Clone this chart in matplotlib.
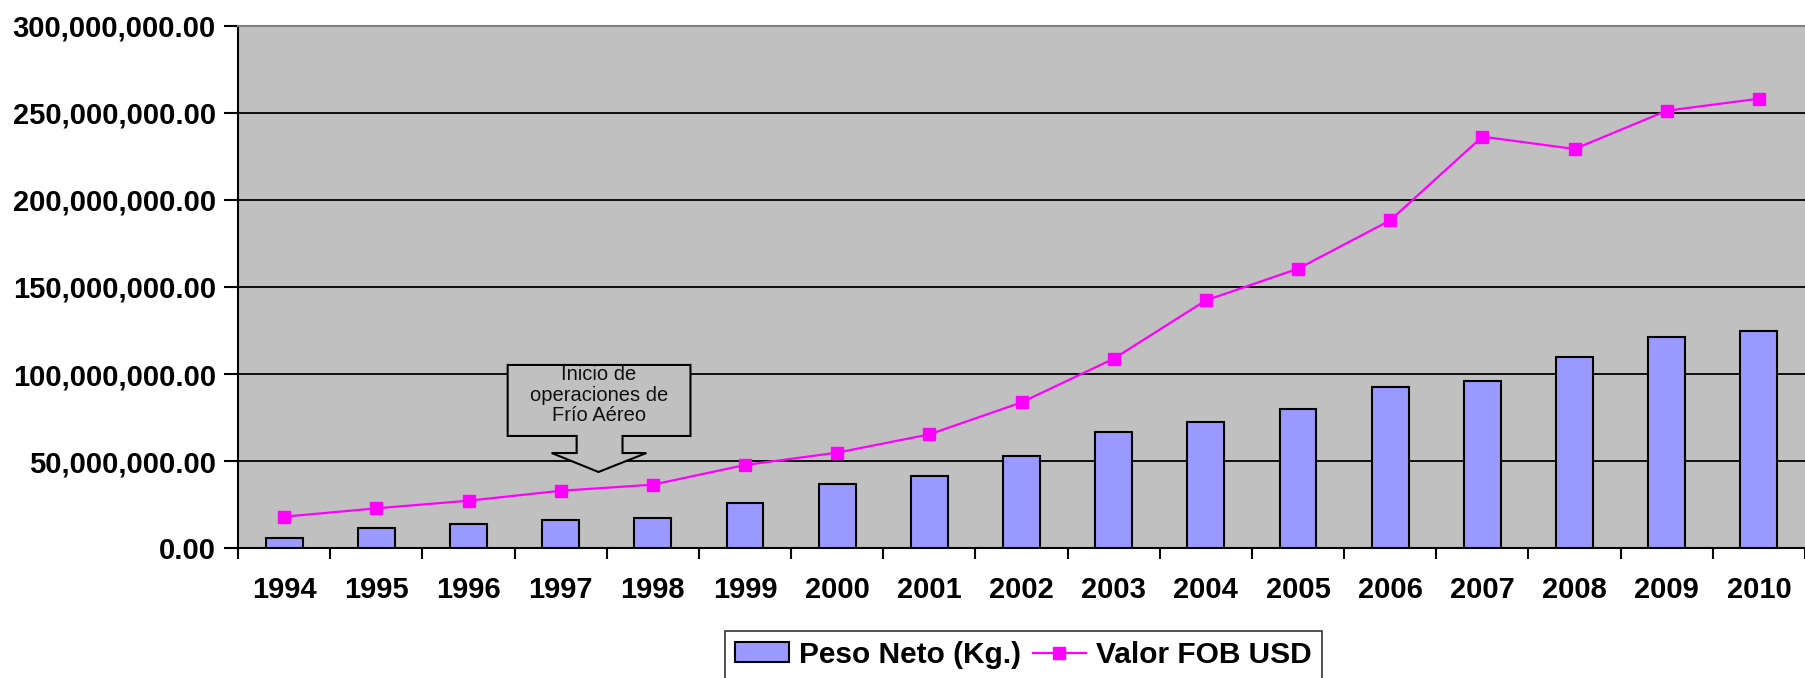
import numpy as np
import matplotlib
matplotlib.use('Agg')
import matplotlib.pyplot as plt
from matplotlib.patches import Polygon
from matplotlib.ticker import FuncFormatter, FixedLocator

plt.rcParams['font.family'] = ['Liberation Sans', 'DejaVu Sans']

# datos
anios = ['1994', '1995', '1996', '1997', '1998', '1999', '2000', '2001', '2002',
         '2003', '2004', '2005', '2006', '2007', '2008', '2009', '2010']
peso_neto = [5.6e6, 11.3e6, 13.6e6, 15.9e6, 17.1e6, 26.1e6, 36.6e6, 41.2e6, 52.9e6,
             66.5e6, 72.2e6, 80.1e6, 92.7e6, 96.2e6, 110.0e6, 121.4e6, 124.9e6]
valor_fob = [18.0e6, 22.8e6, 27.2e6, 32.9e6, 36.4e6, 47.7e6, 54.8e6, 65.3e6, 83.7e6,
             108.8e6, 142.3e6, 160.5e6, 188.3e6, 236.4e6, 229.3e6, 251.3e6, 258.2e6]

fig = plt.figure(figsize=(18.05, 6.78), dpi=100)
ax = fig.add_axes([0.1319, 0.1917, 0.8681, 0.77])
ax.set_facecolor('#C0C0C0')

x = np.arange(len(anios))
barras = ax.bar(x, peso_neto, width=0.4, color='#9999FF', edgecolor='black', linewidth=1.5,
                zorder=3, label='Peso Neto (Kg.)')
linea, = ax.plot(x, valor_fob, color='#FF00FF', linewidth=1.6, marker='s', markersize=8.5,
                 zorder=4, label='Valor FOB USD')

ax.set_xlim(-0.5, len(anios) - 0.5)
ax.set_ylim(0, 300e6)
ax.set_yticks(np.arange(0, 300e6 + 1, 50e6))
ax.yaxis.set_major_formatter(FuncFormatter(lambda v, p: '{:,.2f}'.format(v)))
ax.yaxis.grid(True, color='black', linewidth=1.3, zorder=1)
ax.set_axisbelow(True)

ax.set_xticks(x)
ax.set_xticklabels(anios)
ax.xaxis.set_minor_locator(FixedLocator(np.arange(-0.5, len(anios), 1)))
ax.tick_params(axis='x', which='major', length=0, pad=20)
ax.tick_params(axis='x', which='minor', length=8, width=1.5, direction='out')
ax.tick_params(axis='y', length=10, width=1.5, pad=6)
for lbl in ax.get_xticklabels() + ax.get_yticklabels():
    lbl.set_fontsize(21)
    lbl.set_fontweight('bold')

ax.spines['left'].set_linewidth(1.5)
ax.spines['bottom'].set_linewidth(1.5)
ax.spines['top'].set_color('#808080')
ax.spines['top'].set_linewidth(1.5)
ax.spines['right'].set_visible(False)

# llamada "Inicio de operaciones de Frío Aéreo"
callout = Polygon([(2.425, 105.2e6), (4.408, 105.2e6), (4.408, 64.4e6), (3.671, 64.4e6),
                   (3.671, 54.6e6), (3.93, 54.6e6), (3.41, 43.7e6), (2.902, 54.6e6),
                   (3.173, 54.6e6), (3.173, 64.4e6), (2.425, 64.4e6)],
                  closed=True, facecolor='#C0C0C0', edgecolor='black', linewidth=1.5, zorder=2.5)
ax.add_patch(callout)
t = ax.text(3.417, 87.9e6, 'Inicio de\noperaciones de\nFrío Aéreo', ha='center', va='center',
            fontsize=14.5, color='#111111', zorder=2.6, linespacing=1.1)
t.set_clip_path(callout)

leg = fig.legend([barras, linea], ['Peso Neto (Kg.)', 'Valor FOB USD'],
                 loc='upper center', bbox_to_anchor=(0.567, 1 - 631 / 678), borderaxespad=0,
                 ncol=2, frameon=True, fancybox=False, edgecolor='black',
                 prop={'size': 21.5, 'weight': 'bold'},
                 handlelength=1.8, handleheight=0.64, columnspacing=0.4, handletextpad=0.33,
                 borderpad=0.33)
leg.get_frame().set_linewidth(1.2)

fig.savefig('out.png', dpi=100)
